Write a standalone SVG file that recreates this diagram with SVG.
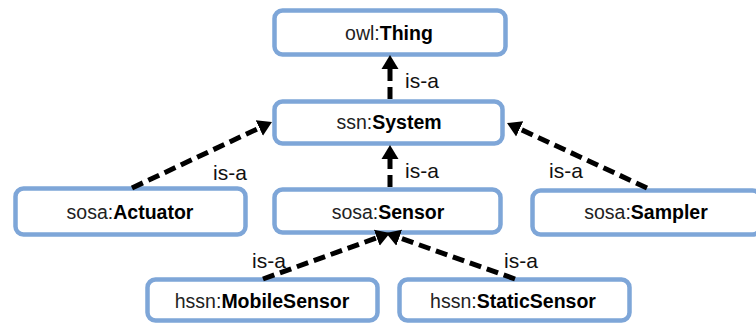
<svg xmlns="http://www.w3.org/2000/svg" width="756" height="326" viewBox="0 0 756 326">
<style>
.box{fill:#fff;stroke:#7ea6d8;stroke-width:4.5}
.t{font-family:"Liberation Sans",Arial,sans-serif;font-size:19.5px;text-anchor:middle;fill:#222}
.t .b{font-weight:bold;fill:#000}
.lbl{font-family:"Liberation Sans",Arial,sans-serif;font-size:21px;fill:#111}
.c{stroke:#000;stroke-width:5;stroke-dasharray:12 6;fill:none}
</style>
<defs>
<marker id="ah" markerUnits="userSpaceOnUse" markerWidth="16" markerHeight="20" refX="0" refY="0" orient="auto" viewBox="0 -10 16 20">
<path d="M0,-8.5 L14,0 L0,8.5 z" fill="#000"/>
</marker>
</defs>
<rect width="756" height="326" fill="#fff"/>
<g id="thing"><rect class="box" x="274.5" y="10.5" width="231" height="44" rx="8"/><text class="t" x="389" y="40">owl:<tspan class="b">Thing</tspan></text></g>
<g id="system"><rect class="box" x="274.5" y="101.5" width="228" height="42" rx="8"/><text class="t" x="389" y="129">ssn:<tspan class="b">System</tspan></text></g>
<g id="actuator"><rect class="box" x="15.5" y="188.5" width="230" height="46" rx="8"/><text class="t" x="130" y="219">sosa:<tspan class="b">Actuator</tspan></text></g>
<g id="sensor"><rect class="box" x="274.5" y="189.5" width="226" height="43" rx="8"/><text class="t" x="388" y="219">sosa:<tspan class="b">Sensor</tspan></text></g>
<g id="sampler"><rect class="box" x="532.5" y="190.5" width="228" height="44" rx="8"/><text class="t" x="646" y="219">sosa:<tspan class="b">Sampler</tspan></text></g>
<g id="mobilesensor"><rect class="box" x="147.5" y="279.5" width="230" height="41" rx="8"/><text class="t" x="262" y="308">hssn:<tspan class="b">MobileSensor</tspan></text></g>
<g id="staticsensor"><rect class="box" x="399.5" y="279.5" width="230" height="41" rx="8"/><text class="t" x="513" y="308">hssn:<tspan class="b">StaticSensor</tspan></text></g>
<g id="connectors">
<line class="c" x1="390" y1="99" x2="390" y2="69" marker-end="url(#ah)"/>
<line class="c" x1="132" y1="188" x2="259.3" y2="128" marker-end="url(#ah)"/>
<line class="c" x1="390" y1="187" x2="390" y2="159" marker-end="url(#ah)"/>
<line class="c" x1="647" y1="188" x2="519.7" y2="128.9" marker-end="url(#ah)"/>
<line class="c" x1="263" y1="279" x2="376.8" y2="237.8" marker-end="url(#ah)"/>
<line class="c" x1="515" y1="279" x2="399.2" y2="237.7" marker-end="url(#ah)"/>
<text class="lbl" x="405" y="88">is-a</text>
<text class="lbl" x="213" y="180">is-a</text>
<text class="lbl" x="405" y="178">is-a</text>
<text class="lbl" x="549" y="178">is-a</text>
<text class="lbl" x="252" y="268">is-a</text>
<text class="lbl" x="504" y="268">is-a</text>
</g>
</svg>
